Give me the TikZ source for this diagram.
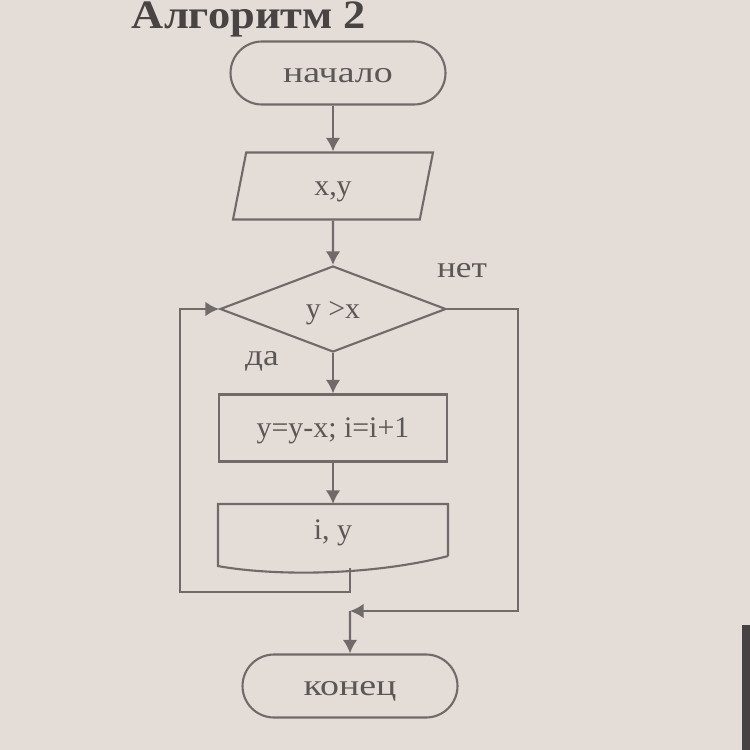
\documentclass[tikz,border=0pt]{standalone}
\usepackage{fontspec}
\setmainfont{Liberation Serif}
\newfontfamily\wideserif[FakeStretch=1.18]{Liberation Serif}
\newfontfamily\widerserif[FakeStretch=1.27]{Liberation Serif}
\newfontfamily\titleserif[FakeStretch=1.1]{Liberation Serif}
\usetikzlibrary{shapes.geometric}
\usetikzlibrary{shapes.misc}
\usetikzlibrary{arrows.meta}
\definecolor{paper}{RGB}{228,220,215}
\definecolor{edge}{RGB}{70,66,68}
\definecolor{ink}{RGB}{112,106,106}
\definecolor{textInk}{RGB}{92,87,87}
\definecolor{titleInk}{RGB}{72,68,68}

\begin{document}
\begin{tikzpicture}
[x=0.02cm,y=-0.02cm,%
  lineDecorate/.style={-{Latex[length=0.27cm,width=0.29cm]},draw=ink,line width=1.3pt},%
  edgeDecorate/.style={-,draw=ink,line width=1.3pt},%
  boxDecorate/.style={draw=ink,line width=1.2pt,text=textInk,inner sep=0pt,%
    text height=1.2em,text depth=0.1em,font=\fontsize{17}{20}\selectfont},%
  termDecorate/.style={boxDecorate,rounded rectangle,minimum width=4.3cm,minimum height=1.26cm,%
    font=\widerserif\fontsize{17}{20}\selectfont},%
  ioDecorate/.style={boxDecorate,trapezium,trapezium left angle=60,trapezium right angle=120,%
    trapezium stretches body,minimum width=4cm,minimum height=1.34cm},%
  testDecorate/.style={boxDecorate,diamond,minimum width=4.52cm,minimum height=1.72cm},%
  procDecorate/.style={boxDecorate,rectangle,minimum width=4.56cm,minimum height=1.34cm},%
  docDecorate/.style={boxDecorate,draw=none,rectangle,minimum width=4.56cm,minimum height=1cm},%
  labelDecorate/.style={text=textInk,font=\wideserif\fontsize{17}{20}\selectfont}]
%% paper
\fill[paper] (0,0) rectangle (750,750);
\fill[edge] (742,625) rectangle (750,750);
\useasboundingbox (0,0) rectangle (750,750);
%% title
\node[anchor=base,inner sep=0pt,text=titleInk,font=\titleserif\bfseries\fontsize{23}{26}\selectfont]
  (title) at (249,29) {Алгоритм 2};
%% nodes
\node[termDecorate] (start) at (338,73) {начало};
\node[ioDecorate] (input) at (333,186) {x,y};
\node[testDecorate] (test) at (333,309) {y >x};
\node[procDecorate] (calc) at (333,428) {y=y-x; i=i+1};
\node[docDecorate] (output) at (333,530) {i, y};
\node[termDecorate] (finish) at (350,686) {конец};
%% document outline
\draw[edgeDecorate,line width=1.2pt] (output.south east) -- (output.north east)
  -- (output.north west) -- ([yshift=-0.2cm]output.south west)
  .. controls +(55,10) and +(-78,20) .. (output.south east);
%% branch labels
\node[labelDecorate] (no) at (462,271) {нет};
\node[labelDecorate] (yes) at (262,361) {да};
%% corner points
\coordinate (docTail) at (350,568);
\coordinate (loopCorner) at (180,592);
\coordinate (rightCorner) at (518,611);
\coordinate (joinPoint) at (350,611);
%% edges
\draw[lineDecorate] (start.south -| input.north) -- (input.north);
\draw[lineDecorate] (input) -- (test);
\draw[lineDecorate] (test) -- (calc);
\draw[lineDecorate] (calc) -- (output);
\draw[lineDecorate] (docTail) |- (loopCorner) |- (test.west);
\draw[lineDecorate] (test.east) -| (rightCorner) -- (joinPoint);
\draw[lineDecorate] (joinPoint) -- (finish);
\end{tikzpicture}
\end{document}
